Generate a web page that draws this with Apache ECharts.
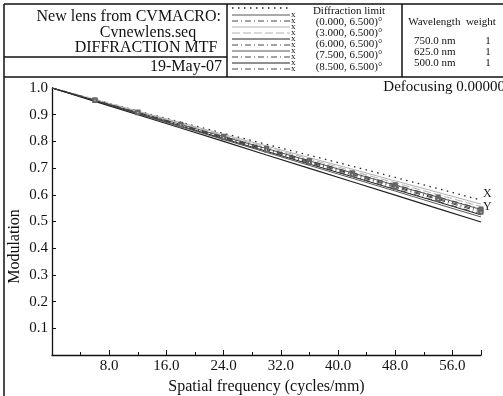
<!DOCTYPE html>
<html>
<head>
<meta charset="utf-8">
<script src="https://cdn.jsdelivr.net/npm/echarts@6/dist/echarts.min.js"></script>
<style>
  html, body { margin: 0; padding: 0; background: #fff; }
  #chart { width: 503px; height: 396px; }
</style>
</head>
<body>
<div id="chart"></div>
<script>
// spatial frequency samples (cycles/mm)
const freq = [0, 6, 12, 18, 24, 30, 36, 42, 48, 54, 60];

const diffLimit = [1.000, 0.957, 0.914, 0.872, 0.830, 0.789, 0.748, 0.707, 0.665, 0.623, 0.580];
const f0X = [1.000, 0.955, 0.909, 0.864, 0.818, 0.773, 0.727, 0.682, 0.636, 0.591, 0.545];
const f0Y = [1.000, 0.955, 0.910, 0.864, 0.819, 0.774, 0.728, 0.683, 0.638, 0.592, 0.547];
const f3X = [1.000, 0.957, 0.913, 0.870, 0.826, 0.783, 0.739, 0.696, 0.652, 0.609, 0.565];
const f3Y = [1.000, 0.956, 0.911, 0.867, 0.822, 0.778, 0.734, 0.689, 0.645, 0.600, 0.556];
const f6X = [1.000, 0.953, 0.905, 0.858, 0.810, 0.763, 0.715, 0.668, 0.620, 0.573, 0.525];
const f6Y = [1.000, 0.954, 0.908, 0.862, 0.816, 0.770, 0.724, 0.678, 0.632, 0.586, 0.540];
const f75X = [1.000, 0.952, 0.903, 0.855, 0.807, 0.759, 0.710, 0.662, 0.614, 0.565, 0.517];
const f75Y = [1.000, 0.954, 0.907, 0.861, 0.814, 0.768, 0.721, 0.675, 0.628, 0.582, 0.535];
const f85X = [1.000, 0.950, 0.900, 0.850, 0.800, 0.749, 0.699, 0.649, 0.599, 0.548, 0.498];
const f85Y = [1.000, 0.953, 0.906, 0.858, 0.811, 0.764, 0.717, 0.670, 0.622, 0.575, 0.528];

const fieldLabels = ['(0.000, 6.500)°', '(3.000, 6.500)°', '(6.000, 6.500)°', '(7.500, 6.500)°', '(8.500, 6.500)°'];
const wavelengths = ['750.0 nm', '625.0 nm', '500.0 nm'];
const weights = ['1', '1', '1'];

const FONT = 'Liberation Serif';
const DARK = '#222';
const LIGHT = '#b0b0b0';
const DASHDOT = [6, 3, 1, 3];

const pairs = arr => freq.map((x, i) => [x, arr[i]]);

function lineSeries(name, arr, color, type, width, marker) {
  return {
    name: name,
    type: 'line',
    data: pairs(arr),
    showSymbol: !!marker,
    symbol: marker ? 'emptyRect' : 'none',
    symbolSize: (v) => (v[0] === 0 ? 0 : 3),
    itemStyle: { color: '#666', borderWidth: 1 },
    lineStyle: { color: color, type: type, width: width },
    silent: true,
    animation: false
  };
}

const series = [
  lineSeries('Diffraction limit', diffLimit, DARK, [1.5, 4.5], 1.3, false),
  lineSeries('0X', f0X, '#555', 'solid', 1, false),
  lineSeries('0Y', f0Y, '#444', DASHDOT, 1, true),
  lineSeries('3X', f3X, LIGHT, 'solid', 1, false),
  lineSeries('3Y', f3Y, LIGHT, [8, 3], 1, false),
  lineSeries('6X', f6X, DARK, 'solid', 1, false),
  lineSeries('6Y', f6Y, '#444', DASHDOT, 1, true),
  lineSeries('7X', f75X, '#555', 'solid', 1, false),
  lineSeries('7Y', f75Y, '#444', DASHDOT, 1, true),
  lineSeries('8X', f85X, DARK, 'solid', 1.2, false),
  lineSeries('8Y', f85Y, '#444', DASHDOT, 1, false)
];

// "X" / "Y" labels at the right end of the curves
series[0].endLabel = { show: true, formatter: 'X', fontFamily: FONT, fontSize: 12, color: DARK, distance: 2, offset: [0, -6] };
series[4].endLabel = { show: true, formatter: 'Y', fontFamily: FONT, fontSize: 12, color: DARK, distance: 2, offset: [0, 0] };

// header frame and legend drawing
const g = [];
const ln = (x1, y1, x2, y2, style) => g.push({
  type: 'line', shape: { x1, y1, x2, y2 },
  style: Object.assign({ stroke: '#111', lineWidth: 1.5 }, style || {}), silent: true
});
const txt = (x, y, text, size, align) => g.push({
  type: 'text', x, y,
  style: { text, fontFamily: FONT, fontSize: size, fill: '#111', align: align || 'left', verticalAlign: 'middle' },
  silent: true
});

ln(4, 4, 503, 4);
ln(4, 4, 4, 396);
ln(4, 77, 503, 77);
ln(227, 4, 227, 77);
ln(402, 4, 402, 77);
ln(4, 57, 227, 57);

txt(221, 17, 'New lens from CVMACRO:', 16, 'right');
txt(148, 33, 'Cvnewlens.seq', 16, 'center');
txt(146, 48, 'DIFFRACTION MTF', 16, 'center');
txt(222, 67, '19-May-07', 16, 'right');

// legend swatches (11 rows), same styles as the series
const rowY = [8, 15, 21, 27, 33, 39, 45, 51, 57, 63, 69];
series.forEach((s, i) => {
  const y = rowY[i];
  const ls = s.lineStyle;
  ln(232, y, 290, y, { stroke: ls.color, lineWidth: ls.width, lineDash: Array.isArray(ls.type) ? ls.type : null });
  if (i > 0) txt(291, y, 'x', 9, 'left');
});
txt(349, 11, 'Diffraction limit', 11, 'center');
fieldLabels.forEach((t, i) => txt(349, 22 + i * 11.2, t, 11, 'center'));

txt(452, 22, 'Wavelength  weight', 11, 'center');
wavelengths.forEach((w, i) => {
  txt(414, 41 + i * 11, w, 11, 'left');
  txt(488, 41 + i * 11, weights[i], 11, 'center');
});

txt(505, 87, 'Defocusing 0.00000', 15, 'right');

const chart = echarts.init(document.getElementById('chart'), null, { renderer: 'canvas' });
chart.setOption({
  animation: false,
  backgroundColor: '#fff',
  grid: { left: 52, top: 88, right: 22, bottom: 41, outerBoundsMode: 'none', containLabel: false },
  xAxis: {
    type: 'value',
    min: 0, max: 60, interval: 8,
    name: 'Spatial frequency (cycles/mm)',
    nameLocation: 'middle', nameGap: 23,
    nameTextStyle: { fontFamily: FONT, fontSize: 16, color: '#111' },
    axisLine: { lineStyle: { color: '#111', width: 1.3 } },
    axisTick: { inside: true, length: 5, lineStyle: { color: '#111' } },
    minorTick: { show: true, splitNumber: 2, length: 3, lineStyle: { color: '#111' } },
    axisLabel: {
      fontFamily: FONT, fontSize: 15, color: '#111', margin: 4,
      formatter: v => (v === 0 || v === 60 ? '' : v.toFixed(1))
    },
    splitLine: { show: false }
  },
  yAxis: {
    type: 'value',
    min: 0, max: 1, interval: 0.1,
    name: 'Modulation',
    nameLocation: 'middle', nameGap: 29, nameMoveOverlap: false,
    nameTextStyle: { fontFamily: FONT, fontSize: 16, color: '#111', padding: [0, 50, 0, 0] },
    axisLine: { show: true, lineStyle: { color: '#111', width: 1.3 } },
    axisTick: { show: true, inside: true, length: 4, lineStyle: { color: '#111' } },
    axisLabel: {
      fontFamily: FONT, fontSize: 15, color: '#111', margin: 4,
      formatter: v => (v === 0 ? '' : v.toFixed(1))
    },
    splitLine: { show: false }
  },
  series: series,
  graphic: g
});
</script>
</body>
</html>
